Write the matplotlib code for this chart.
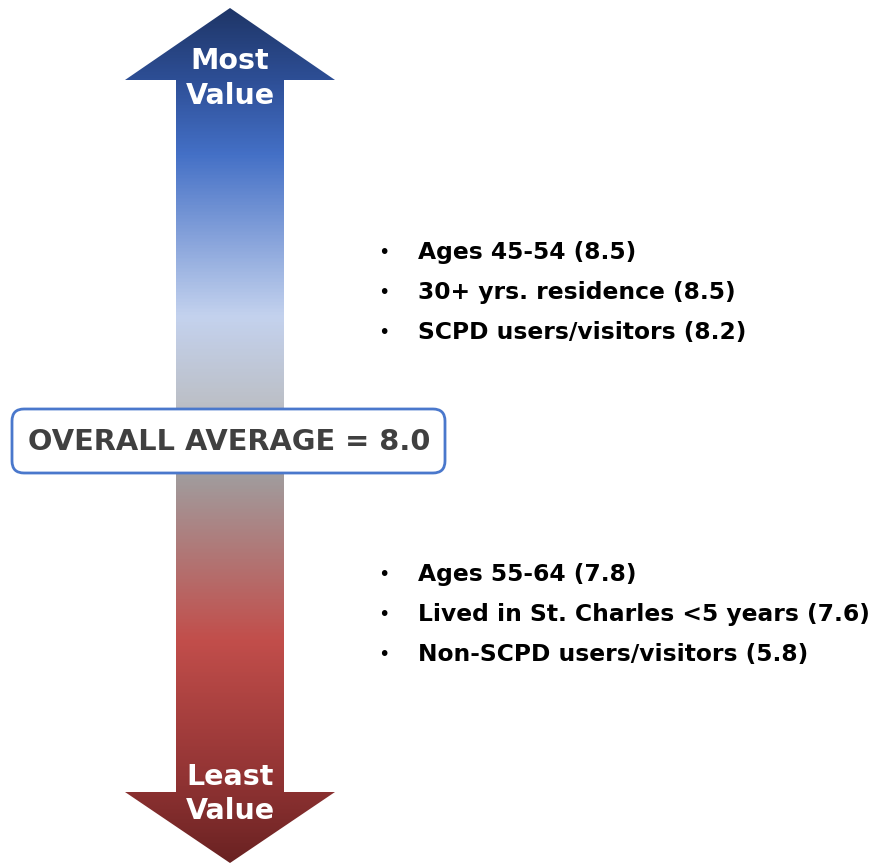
import numpy as np
import matplotlib
matplotlib.use("Agg")
import matplotlib.pyplot as plt
from matplotlib.colors import LinearSegmentedColormap
from matplotlib.patches import Polygon, FancyBboxPatch

# data
high_groups = ["Ages 45-54", "30+ yrs. residence", "SCPD users/visitors"]
high_scores = [8.5, 8.5, 8.2]
low_groups = ["Ages 55-64", "Lived in St. Charles <5 years", "Non-SCPD users/visitors"]
low_scores = [7.8, 7.6, 5.8]
overall_avg = 8.0

W, H = 889, 865
fig = plt.figure(figsize=(W / 100, H / 100), dpi=100)
ax = fig.add_axes([0, 0, 1, 1])
ax.set_xlim(0, W)
ax.set_ylim(H, 0)
ax.axis("off")

# double arrow outline (pixel coords)
cx = 230
head_w = 105
shaft_w = 54
top_tip, top_base = 8, 80
bot_base, bot_tip = 792, 863
pts = [(cx, top_tip), (cx + head_w, top_base), (cx + shaft_w, top_base),
       (cx + shaft_w, bot_base), (cx + head_w, bot_base), (cx, bot_tip),
       (cx - head_w, bot_base), (cx - shaft_w, bot_base), (cx - shaft_w, top_base),
       (cx - head_w, top_base)]
arrow = Polygon(pts, closed=True, facecolor="none", edgecolor="none")
ax.add_patch(arrow)

stops = [(0.0, "#1f3668"), (0.09, "#2f519a"), (0.17, "#4470c6"), (0.36, "#c4d2ee"),
         (0.46, "#bcc0c8"), (0.55, "#a19b9c"), (0.74, "#c24e4b"), (0.9, "#923434"),
         (1.0, "#6a2222")]
cmap = LinearSegmentedColormap.from_list("arrow", stops)
grad = np.linspace(0, 1, 512).reshape(-1, 1)
img = ax.imshow(grad, cmap=cmap, aspect="auto",
                extent=[cx - head_w, cx + head_w, bot_tip, top_tip], zorder=1)
img.set_clip_path(arrow)

txt = dict(color="white", fontsize=20.5, fontweight="bold", ha="center", va="center", zorder=3)
ax.text(cx, 61, "Most", **txt)
ax.text(cx, 96, "Value", **txt)
ax.text(cx, 777, "Least", **txt)
ax.text(cx, 811, "Value", **txt)

# overall average box
box = FancyBboxPatch((12, 409), 433, 64, boxstyle="round,pad=0,rounding_size=12",
                     facecolor="white", edgecolor="#4a78cc", linewidth=2, zorder=4)
ax.add_patch(box)
ax.text(229, 442, f"OVERALL AVERAGE = {overall_avg:.1f}", color="#404040",
        fontsize=20.8, fontweight="bold", ha="center", va="center", zorder=5)

def bullets(groups, scores, y0):
    for i, (g, s) in enumerate(zip(groups, scores)):
        y = y0 + i * 40
        ax.text(384, y, "•", fontsize=14, ha="center", va="center", color="black")
        ax.text(418, y, f"{g} ({s})", fontsize=16.8, fontweight="bold",
                ha="left", va="center", color="black")

bullets(high_groups, high_scores, 253)
bullets(low_groups, low_scores, 574)

fig.savefig("out.png", dpi=100)
